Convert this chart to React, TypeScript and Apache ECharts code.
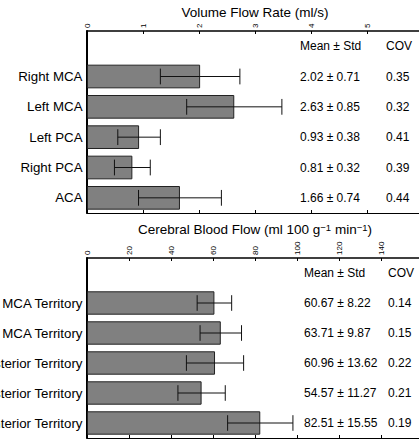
import React, { useEffect, useRef } from "react";
import * as echarts from "echarts";

const flowCategories = ["Right MCA", "Left MCA", "Left PCA", "Right PCA", "ACA"];
const flowMean = [2.02, 2.63, 0.93, 0.81, 1.66];
const flowStd = [0.71, 0.85, 0.38, 0.32, 0.74];
const flowCov = [0.35, 0.32, 0.41, 0.39, 0.44];
const flowAxisMax = 6;
const flowAxisInterval = 1;

const cbfCategories = [
  "Right MCA Territory",
  "Left MCA Territory",
  "Left Posterior Territory",
  "Right Posterior Territory",
  "Anterior Territory",
];
const cbfMean = [60.67, 63.71, 60.96, 54.57, 82.51];
const cbfStd = [8.22, 9.87, 13.62, 11.27, 15.55];
const cbfCov = [0.14, 0.15, 0.22, 0.21, 0.19];
const cbfAxisMax = 160;
const cbfAxisInterval = 20;

const FONT = "'Liberation Sans', Arial, Helvetica, sans-serif";

export default function App() {
  const ref = useRef<HTMLDivElement>(null);
  useEffect(() => {
    if (!ref.current) return;
    const chart = echarts.init(ref.current, undefined, { renderer: "svg" });

    const flowY = ["", ...flowCategories];
    const cbfY = ["", ...cbfCategories];

    const topAxis = (gridIndex: number, max: number, interval: number, name: string, nameGap: number) => ({
      type: "value",
      gridIndex,
      position: "top",
      min: 0,
      max,
      interval,
      name,
      nameLocation: "middle",
      nameGap,
      nameTextStyle: {
        fontSize: 13.5,
        color: "#000",
        fontFamily: FONT,
        rich: {
          s: { fontSize: 9.5, color: "#000", fontFamily: FONT, verticalAlign: "top", lineHeight: 10, padding: [0, 0, 5, 0] },
        },
      },
      axisLine: { show: true, lineStyle: { color: "#000", width: 1.5 } },
      axisTick: { show: true, inside: true, length: 3, lineStyle: { color: "#000" } },
      axisLabel: { show: true, rotate: -90, fontSize: 8, margin: 3, color: "#000", fontFamily: FONT },
      splitLine: { show: false },
    });
    const bottomAxis = (gridIndex: number, max: number, interval: number) => ({
      type: "value",
      gridIndex,
      position: "bottom",
      min: 0,
      max,
      interval,
      axisLine: { show: true, lineStyle: { color: "#000", width: 1 } },
      axisTick: { show: true, inside: true, length: 3, lineStyle: { color: "#000" } },
      axisLabel: { show: false },
      splitLine: { show: false },
    });
    const catAxis = (gridIndex: number, data: string[]) => ({
      type: "category",
      gridIndex,
      data,
      inverse: true,
      position: "left",
      axisLine: { show: true, lineStyle: { color: "#000", width: 2 } },
      axisTick: { show: false },
      axisLabel: { fontSize: 13.3, color: "#000", margin: 4.5, fontFamily: FONT },
    });
    const textAxis = (
      gridIndex: number,
      data: string[],
      offset: number,
      fmt: (i: number) => string
    ) => ({
      type: "category",
      gridIndex,
      data,
      inverse: true,
      position: "left",
      offset,
      axisLine: { show: false },
      axisTick: { show: false },
      axisLabel: {
        inside: true,
        margin: 0,
        fontSize: 12,
        color: "#000",
        fontFamily: FONT,
        formatter: (_v: string, i: number) => fmt(i),
      },
    });

    const errorSeries = (xAxisIndex: number, yAxisIndex: number, mean: number[], std: number[]) => ({
      type: "custom",
      xAxisIndex,
      yAxisIndex,
      z: 5,
      data: mean.map((m, i) => [m, i + 1, std[i]]),
      encode: { x: 0, y: 1 },
      renderItem: (_p: any, api: any) => {
        const m = api.value(0);
        const idx = api.value(1);
        const s = api.value(2);
        const a = api.coord([m - s, idx]);
        const b = api.coord([m + s, idx]);
        const h = api.size([0, 1])[1] * 0.26;
        const style = { stroke: "#111", lineWidth: 1, fill: "none" };
        return {
          type: "group",
          children: [
            { type: "line", shape: { x1: a[0], y1: a[1], x2: b[0], y2: b[1] }, style },
            { type: "line", shape: { x1: a[0], y1: a[1] - h, x2: a[0], y2: a[1] + h }, style },
            { type: "line", shape: { x1: b[0], y1: b[1] - h, x2: b[0], y2: b[1] + h }, style },
          ],
        };
      },
    });

    const barSeries = (xAxisIndex: number, yAxisIndex: number, mean: number[]) => ({
      type: "bar",
      xAxisIndex,
      yAxisIndex,
      data: ["-", ...mean],
      barWidth: "78%",
      itemStyle: { color: "#808080", borderColor: "#222", borderWidth: 1 },
      z: 2,
    });

    chart.setOption({
      animation: false,
      textStyle: { fontFamily: FONT },
      grid: [
        { left: 87, top: 31, width: 336, height: 182, containLabel: false, outerBoundsMode: "none" },
        { left: 87, top: 258, width: 336, height: 180, containLabel: false, outerBoundsMode: "none" },
      ],
      xAxis: [
        topAxis(0, flowAxisMax, flowAxisInterval, "Volume Flow Rate (ml/s)", 9),
        bottomAxis(0, flowAxisMax, flowAxisInterval),
        topAxis(1, cbfAxisMax, cbfAxisInterval, "Cerebral Blood Flow (ml 100 g{s|\u22121} min{s|\u22121})", 12),
        bottomAxis(1, cbfAxisMax, cbfAxisInterval),
      ],
      yAxis: [
        catAxis(0, flowY),
        textAxis(0, flowY, -213, (i) =>
          i === 0 ? "Mean ± Std" : `${flowMean[i - 1].toFixed(2)} ± ${flowStd[i - 1].toFixed(2)}`
        ),
        textAxis(0, flowY, -299, (i) => (i === 0 ? "COV" : flowCov[i - 1].toFixed(2))),
        catAxis(1, cbfY),
        textAxis(1, cbfY, -217, (i) =>
          i === 0 ? "Mean ± Std" : `${cbfMean[i - 1].toFixed(2)} ± ${cbfStd[i - 1].toFixed(2)}`
        ),
        textAxis(1, cbfY, -301, (i) => (i === 0 ? "COV" : cbfCov[i - 1].toFixed(2))),
      ],
      series: [
        barSeries(0, 0, flowMean),
        errorSeries(0, 0, flowMean, flowStd),
        barSeries(2, 3, cbfMean),
        errorSeries(2, 3, cbfMean, cbfStd),
      ],
    });
    return () => chart.dispose();
  }, []);

  return (
    <div
      style={{
        position: "fixed",
        left: 0,
        top: 0,
        width: 419,
        height: 439,
        overflow: "hidden",
        background: "#fff",
      }}
    >
      <div ref={ref} style={{ position: "absolute", left: 0, top: 0, width: 460, height: 439 }} />
    </div>
  );
}
